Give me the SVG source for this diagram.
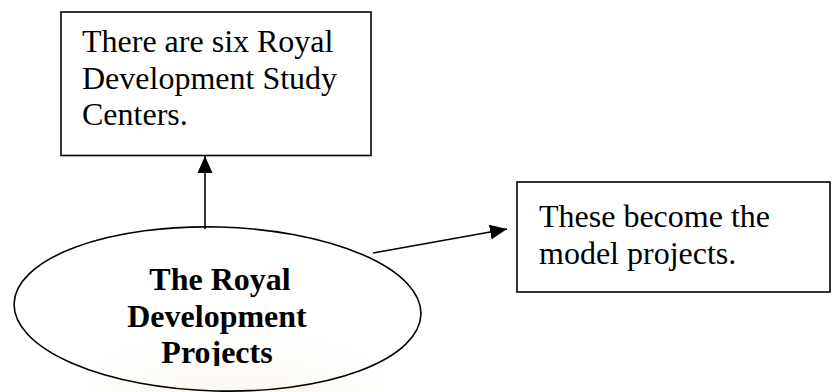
<svg xmlns="http://www.w3.org/2000/svg" width="834" height="392" viewBox="0 0 834 392">
  <style>
    .box { fill: #ffffff; stroke: #000000; stroke-width: 1.6; }
    .oval { fill: none; stroke: #000000; stroke-width: 1.6; }
    .txt { font-family: "Liberation Serif", "Times New Roman", serif; font-size: 32px; fill: #000000; }
    .bold { font-weight: bold; text-anchor: middle; }
    .conn { stroke: #000000; stroke-width: 1.6; fill: none; marker-end: url(#arrow); }
  </style>
  <defs>
    <marker id="arrow" viewBox="0 0 17 15" refX="17" refY="7.5" markerWidth="17" markerHeight="15" markerUnits="userSpaceOnUse" orient="auto">
      <path d="M0,0 L17,7.5 L0,15 z" fill="#000000"/>
    </marker>
    <radialGradient id="seal" cx="0.5" cy="1" r="0.9">
      <stop offset="0" stop-color="#efe3c2" stop-opacity="0.55"/>
      <stop offset="0.6" stop-color="#f3ead2" stop-opacity="0.3"/>
      <stop offset="1" stop-color="#ffffff" stop-opacity="0"/>
    </radialGradient>
    <clipPath id="ovalText">
      <rect x="0" y="240" width="834" height="126"/>
    </clipPath>
  </defs>

  <rect width="834" height="392" fill="#ffffff"/>
  <!-- faint seal printed behind the page -->
  <ellipse cx="235" cy="392" rx="150" ry="110" fill="url(#seal)"/>

  <g id="connectors">
    <line class="conn" x1="205" y1="229" x2="205" y2="156"/>
    <line class="conn" x1="373" y1="253" x2="507" y2="229"/>
  </g>

  <g id="centers">
    <rect class="box" x="61" y="12" width="310" height="143.5"/>
    <text class="txt" x="82" y="52">There are six Royal</text>
    <text class="txt" x="82" y="88.5">Development Study</text>
    <text class="txt" x="82" y="125">Centers.</text>
  </g>

  <g id="model">
    <rect class="box" x="517" y="182" width="313" height="110"/>
    <text class="txt" x="539" y="227">These become the</text>
    <text class="txt" x="539" y="263.5">model projects.</text>
  </g>

  <g id="projects">
    <ellipse class="oval" cx="217.5" cy="309" rx="203.5" ry="82" transform="rotate(1.5 217.5 309)"/>
    <g clip-path="url(#ovalText)">
      <text class="txt bold" x="220" y="290">The Royal</text>
      <text class="txt bold" x="217" y="326.5">Development</text>
      <text class="txt bold" x="217" y="363">Projects</text>
    </g>
  </g>
</svg>
